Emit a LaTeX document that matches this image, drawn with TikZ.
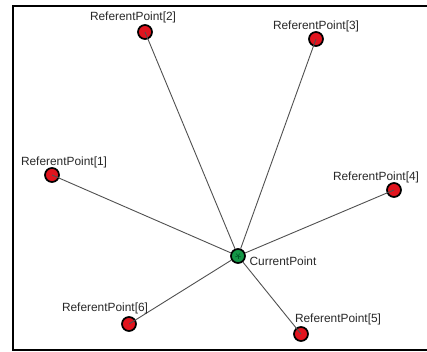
\documentclass[tikz,border=0pt]{standalone}
\usepackage{fontspec}
\setmainfont{Liberation Sans}
\definecolor{refred}{RGB}{225,20,30}
\definecolor{curgreen}{RGB}{20,150,70}
\definecolor{darkgreen}{RGB}{0,90,40}
\definecolor{lbltext}{RGB}{40,40,40}
\definecolor{edgegray}{RGB}{80,80,80}
\begin{document}
\begin{tikzpicture}[x=1pt,y=-1pt,
  refpt/.style={circle,draw=black,line width=1.7pt,fill=refred,minimum size=14pt,inner sep=0pt},
  curpt/.style={circle,draw=black,line width=1.7pt,fill=curgreen,minimum size=14pt,inner sep=0pt,
    path picture={\foreach \a in {0,72,144,216,288}{\draw[darkgreen,line width=0.6pt] (path picture bounding box.center) -- ++(\a+90:-3pt);}}},
  lbl/.style={font=\fontsize{11.9}{14}\selectfont,text=lbltext,inner sep=0pt},
  edge/.style={draw=edgegray,line width=0.9pt}]
\useasboundingbox (0,0) rectangle (427,352);
\draw[line width=1.5pt] (430,6) -- (13,6) -- (13,350) -- (430,350);
\node[refpt] (r1) at (52,175) {};
\node[refpt] (r2) at (145,32) {};
\node[refpt] (r3) at (316,39) {};
\node[refpt] (r4) at (394,190) {};
\node[refpt] (r5) at (301,334) {};
\node[refpt] (r6) at (129,324) {};
\node[curpt] (cp) at (238,256) {};
\foreach \r in {r1,r2,r3,r4,r5,r6}{\draw[edge] (cp) -- (\r.center);}
\node[lbl] (l1) at (64,162) {ReferentPoint[1]};
\node[lbl] (l2) at (133,17) {ReferentPoint[2]};
\node[lbl] (l3) at (316,26) {ReferentPoint[3]};
\node[lbl] (l4) at (376,177) {ReferentPoint[4]};
\node[lbl] (l5) at (338,319) {ReferentPoint[5]};
\node[lbl] (l6) at (105,308) {ReferentPoint[6]};
\node[lbl] (lc) at (283,261) {CurrentPoint};
\end{tikzpicture}
\end{document}
